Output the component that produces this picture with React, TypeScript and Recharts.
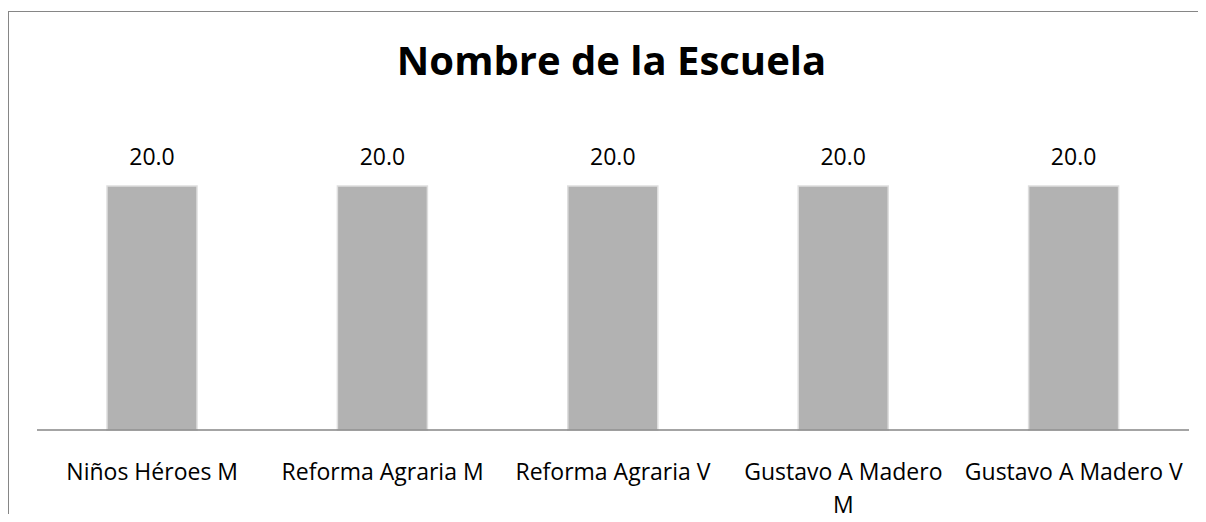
import React from "react";
import { BarChart, Bar, XAxis, YAxis, LabelList } from "recharts";

const title = "Nombre de la Escuela";
const categories = [
  "Niños Héroes M",
  "Reforma Agraria M",
  "Reforma Agraria V",
  "Gustavo A Madero M",
  "Gustavo A Madero V",
];
const values = [20.0, 20.0, 20.0, 20.0, 20.0];
const yDomain = [0, 25];

const data = categories.map((name, i) => ({ name, value: values[i] }));

const FONT = "'Open Sans', 'DejaVu Sans', sans-serif";
const TICK_SIZE = 23;
const MAX_LINE = 224;

let ctx: CanvasRenderingContext2D | null = null;
function measure(s: string): number {
  if (!ctx) {
    const c = document.createElement("canvas");
    ctx = c.getContext("2d");
  }
  if (!ctx) return s.length * TICK_SIZE * 0.5;
  ctx.font = `${TICK_SIZE}px 'Open Sans'`;
  return ctx.measureText(s).width;
}

function wrap(label: string): string[] {
  const words = label.split(" ");
  const lines: string[] = [];
  let cur = "";
  for (const w of words) {
    const t = cur ? cur + " " + w : w;
    if (cur && measure(t) > MAX_LINE) {
      lines.push(cur);
      cur = w;
    } else {
      cur = t;
    }
  }
  if (cur) lines.push(cur);
  return lines;
}

const Tick = (props: any) => {
  const { x, y, payload } = props;
  const lines = wrap(String(payload.value));
  return (
    <text x={x} y={y} textAnchor="middle" fontFamily={FONT} fontSize={TICK_SIZE} fill="#000">
      {lines.map((l, i) => (
        <tspan key={i} x={x} y={y + 42 + i * 33}>
          {l}
        </tspan>
      ))}
    </text>
  );
};

const ValueLabel = (props: any) => {
  const { x, y, width, value } = props;
  return (
    <text
      x={Number(x) + Number(width) / 2}
      y={Number(y) - 21}
      textAnchor="middle"
      fontFamily={FONT}
      fontSize={TICK_SIZE}
      fill="#000"
    >
      {Number(value).toFixed(1)}
    </text>
  );
};

export default function App() {
  return (
    <div
      style={{
        height: 514,
        paddingTop: 3,
        boxSizing: "border-box",
        marginBottom: -8,
        overflow: "hidden",
      }}
    >
      <div
        style={{
          width: 1197,
          height: 510,
          borderLeft: "1px solid #868686",
          borderTop: "1px solid #868686",
          position: "relative",
          background: "#fff",
        }}
      >
        <BarChart
          width={1197}
          height={510}
          data={data}
          margin={{ top: 113, right: 17, bottom: 0, left: 28 }}
          barCategoryGap="30%"
        >
          <XAxis
            dataKey="name"
            height={92}
            tickLine={false}
            axisLine={{ stroke: "#868686", strokeWidth: 1.5 }}
            tick={<Tick />}
            interval={0}
          />
          <YAxis hide domain={yDomain} />
          <Bar
            dataKey="value"
            fill="#b2b2b2"
            stroke="#dedede"
            strokeWidth={1.5}
            barSize={90}
            isAnimationActive={false}
          >
            <LabelList dataKey="value" content={<ValueLabel />} />
          </Bar>
        </BarChart>
        <svg
          width={1197}
          height={100}
          style={{ position: "absolute", left: 0, top: 0, pointerEvents: "none" }}
        >
          <text
            x={602.5}
            y={63}
            textAnchor="middle"
            fontFamily={FONT}
            fontWeight="bold"
            fontSize={40}
            fill="#000"
          >
            {title}
          </text>
        </svg>
      </div>
    </div>
  );
}
